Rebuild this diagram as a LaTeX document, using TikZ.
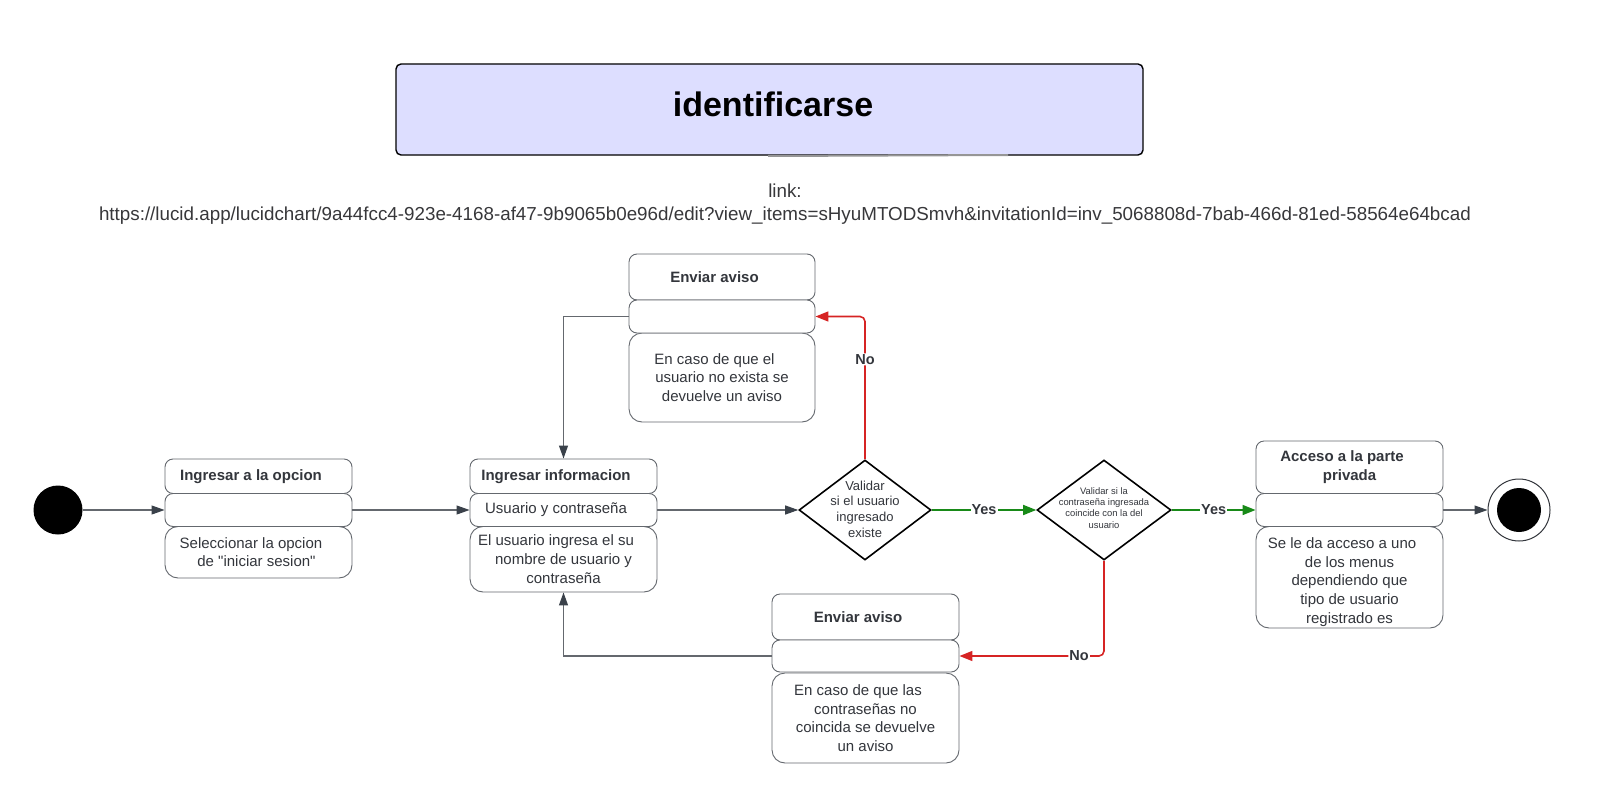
\documentclass[tikz,border=0pt]{standalone}
\usepackage{fontspec}
\setmainfont{Liberation Sans}[Ligatures=TeXOff]
\usetikzlibrary{arrows.meta,shapes.geometric}
\definecolor{txt}{RGB}{51,54,60}
\definecolor{edgec}{RGB}{100,104,110}
\definecolor{tipc}{RGB}{58,65,74}
\definecolor{redl}{RGB}{214,36,36}
\definecolor{greenl}{RGB}{24,138,24}
\definecolor{titlefill}{RGB}{221,222,255}
\definecolor{linkc}{RGB}{55,55,58}
\newcommand\padr{\kern15pt}
\begin{document}
\begin{tikzpicture}[x=1pt,y=-1pt,
  sec/.style={draw=edgec, line width=0.9pt, fill=white, rounded corners=8pt, inner sep=0pt,
    text=txt, align=center, minimum width=187pt, font=\fontsize{15}{18.7}\selectfont},
  body/.style={sec, rounded corners=13pt},
  head/.style={font=\bfseries\fontsize{15}{18.3}\selectfont},
  flow/.style={draw=edgec, line width=1.1pt, -{Triangle[length=13pt,width=9pt,color=tipc]}},
  redflow/.style={draw=redl, line width=1.6pt, rounded corners=5pt, -{Triangle[length=13pt,width=10pt]}},
  greenflow/.style={draw=greenl, line width=1.6pt, -{Triangle[length=13pt,width=10pt]}},
  lab/.style={fill=white, inner sep=1pt, text=txt, font=\bfseries\fontsize{14.5}{16}\selectfont},
  dia/.style={diamond, draw=black, line width=1.6pt, inner sep=0pt, fill=white},
]
\useasboundingbox (0,0) rectangle (1600,797);

% title
\node[draw=black, line width=1.4pt, fill=titlefill, rounded corners=5pt, minimum width=747pt,
  minimum height=91pt] (title) at (769.5,109.5) {};
\node[font=\bfseries\fontsize{34}{40}\selectfont, text=black] (titletext) at (773,104) {identificarse};
\coordinate (g1) at (768,156);
\coordinate (g2) at (1008,155);
\draw[color={rgb,255:red,150;green,150;blue,150}, line width=2pt] (g1) -- (g2);

\node[text=linkc, align=center, font=\fontsize{18.8}{23.5}\selectfont] (link) at (785,204)
  {link:\\https://lucid.app/lucidchart/9a44fcc4-923e-4168-af47-9b9065b0e96d/edit?view\_items=sHyuMTODSmvh\&invitationId=inv\_5068808d-7bab-466d-81ed-58564e64bcad};

% start / end
\node[circle, fill=black, minimum size=49pt, inner sep=0pt] (start) at (58,510) {};
\node[circle, draw=txt, line width=1pt, fill=white, minimum size=62pt, inner sep=0pt] (end) at (1519,510) {};
\node[circle, fill=black, minimum size=44pt, inner sep=0pt] (endin) at (end.center) {};

% box 1
\node[sec, head, minimum height=34.5pt] (b1a) at (258.5,476.25) {Ingresar a la opcion\padr};
\node[body, minimum height=51.5pt] (b1b) at (258.5,552.25) {Seleccionar la opcion\padr\\de "iniciar sesion"\kern4pt};
\node[sec, minimum height=33pt] (b1m) at (258.5,510) {};

% box 2
\node[sec, head, minimum height=34.5pt] (b2a) at (563.5,476.25) {Ingresar informacion\padr};
\node[body, minimum height=65.5pt] (b2b) at (563.5,559.25) {El usuario ingresa el su\padr\\nombre de usuario y\\contraseña};
\node[sec, minimum height=33pt] (b2m) at (563.5,510) {Usuario y contraseña\padr};

% Enviar aviso (top)
\node[sec, head, minimum width=186pt, minimum height=46pt] (E1a) at (722,277) {Enviar aviso\padr};
\node[body, minimum width=186pt, minimum height=89pt] (E1b) at (722,377.5) {En caso de que el\padr\\usuario no exista se\\devuelve un aviso};
\node[sec, minimum width=186pt, minimum height=33pt] (E1m) at (722,316.5) {};

% Enviar aviso (bottom)
\node[sec, head, minimum height=46pt] (E2a) at (865.5,617) {Enviar aviso\padr};
\node[body, minimum height=90pt] (E2b) at (865.5,718) {En caso de que las\padr\\contraseñas no\\coincida se devuelve\\un aviso};
\node[sec, minimum height=32pt] (E2m) at (865.5,656) {};

% Acceso
\node[sec, head, minimum height=52.5pt] (Aa) at (1349.5,467.25) {Acceso a la parte\padr\\privada};
\node[body, minimum height=101.5pt] (Ab) at (1349.5,577.25) {\rule{0pt}{20pt}Se le da acceso a uno\padr\\de los menus\\dependiendo que\\tipo de usuario\\registrado es};
\node[sec, minimum height=33pt] (Am) at (1349.5,510) {};

% diamonds
\node[dia, minimum width=132pt, minimum height=100pt] (d1) at (865,510) {};
\node[text=txt, align=center, font=\fontsize{13}{15.6}\selectfont] (d1t) at (865,509) {Validar\\si el usuario\\ingresado\\existe};
\node[dia, minimum width=134pt, minimum height=100pt] (d2) at (1104,510) {};
\node[text=txt, align=center, font=\fontsize{9.4}{11.2}\selectfont] (d2t) at (1104,508) {Validar si la\\contraseña ingresada\\coincide con la del\\usuario};

% connectors
\draw[flow] (start.east) -- (b1m.west);
\draw[flow] (b1m.east) -- (b2m.west);
\draw[flow] (b2m.east) -- (d1.west);
\draw[greenflow] (d1.east) -- node[lab]{Yes} (d2.west);
\draw[greenflow] (d2.east) -- node[lab]{Yes} (Am.west);
\draw[flow] (Am.east) -- (end.west);
\draw[redflow] (d1.north) |- node[lab,pos=0.35]{No} (E1m.east);
\draw[redflow] (d2.south) |- node[lab,pos=0.586]{No} (E2m.east);
\draw[flow] (E1m.west) -| (b2a.north);
\draw[flow] (E2m.west) -| (b2b.south);
\end{tikzpicture}
\end{document}
